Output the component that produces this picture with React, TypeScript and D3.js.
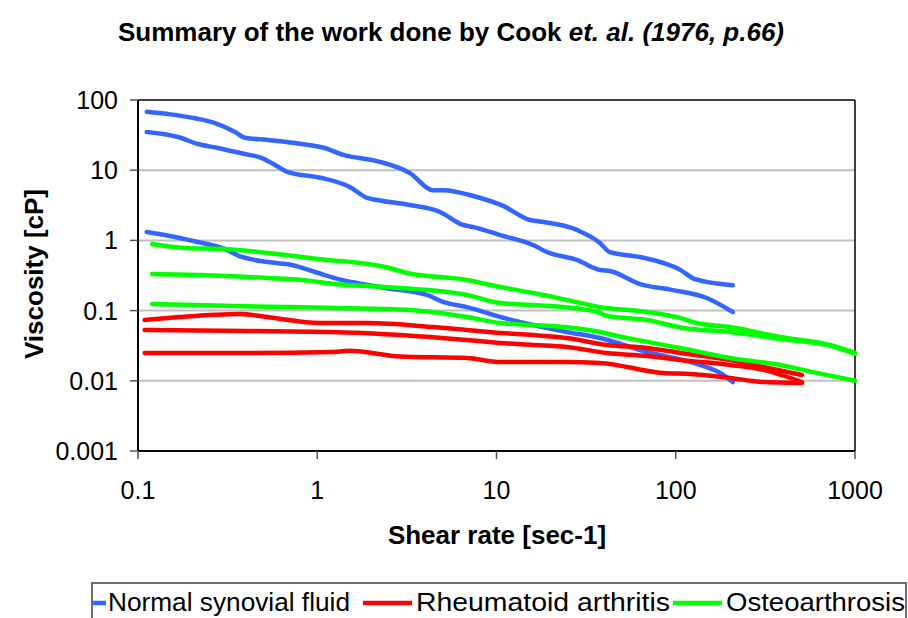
import React from 'react';
import * as d3 from 'd3';

const normalHighX = [0.112, 0.147, 0.208, 0.269, 0.348, 0.395, 0.531, 0.751, 1.10, 1.40, 2.15, 3.29, 4.42, 5.03, 7.78, 10.9, 15.4, 16.8, 28.1, 37.8, 42.9, 63.2, 106, 128, 208];
const normalHighY = [68, 63, 55, 47, 35, 29, 27, 24.4, 20.7, 16.5, 13.5, 9.1, 5.2, 5.2, 4.15, 3.1, 1.95, 1.89, 1.41, 0.92, 0.68, 0.58, 0.38, 0.28, 0.23];

const normalMidX = [0.112, 0.167, 0.216, 0.279, 0.395, 0.492, 0.581, 0.687, 1.06, 1.52, 1.90, 2.15, 3.29, 4.84, 6.50, 7.39, 10.5, 16.0, 19.1, 28.1, 37.8, 42.9, 63.2, 96.5, 149, 208];
const normalMidY = [35.0, 29.7, 23.6, 20.7, 17.0, 14.9, 11.9, 9.42, 7.74, 5.77, 4.02, 3.76, 3.19, 2.54, 1.66, 1.55, 1.19, 0.859, 0.684, 0.526, 0.379, 0.366, 0.239, 0.196, 0.151, 0.0955];

const normalLowX = [0.112, 0.161, 0.228, 0.294, 0.380, 0.531, 0.723, 0.971, 1.37, 1.92, 2.39, 4.10, 5.03, 6.84, 10.5, 16.0, 24.7, 37.8, 69.2, 125, 177, 208];
const normalLowY = [1.32, 1.12, 0.918, 0.780, 0.581, 0.492, 0.447, 0.355, 0.273, 0.232, 0.210, 0.167, 0.133, 0.112, 0.0811, 0.0624, 0.0496, 0.0407, 0.0257, 0.0180, 0.0129, 0.0096];

const rheumHighX = [0.109, 0.171, 0.371, 0.525, 1.04, 1.90, 4.42, 6.84, 10.5, 16.0, 24.7, 41.3, 69.2, 106, 201, 307, 506];
const rheumHighY = [0.0734, 0.0811, 0.0896, 0.0811, 0.0665, 0.0665, 0.0583, 0.0530, 0.0480, 0.0449, 0.0407, 0.0324, 0.0293, 0.0249, 0.0198, 0.0157, 0.0121];

const rheumMidX = [0.109, 0.405, 1.18, 2.90, 6.84, 10.5, 16.0, 24.7, 41.3, 69.2, 106, 201, 307, 506];
const rheumMidY = [0.0530, 0.0512, 0.0496, 0.0449, 0.0381, 0.0345, 0.0324, 0.0303, 0.0249, 0.0225, 0.0198, 0.0168, 0.0143, 0.0096];

const rheumLowX = [0.109, 0.405, 1.18, 1.52, 2.90, 6.84, 10.5, 24.7, 37.8, 84.9, 120, 201, 307, 506];
const rheumLowY = [0.0249, 0.0249, 0.0257, 0.0268, 0.0222, 0.0211, 0.0185, 0.0185, 0.0180, 0.0129, 0.0125, 0.0110, 0.0096, 0.0093];

const osteoHighX = [0.120, 0.183, 0.306, 0.531, 0.822, 1.15, 1.56, 2.39, 3.17, 6.84, 10.5, 16.0, 24.7, 37.8, 69.2, 106, 131, 201, 382, 725, 1000];
const osteoHighY = [0.889, 0.780, 0.753, 0.662, 0.581, 0.526, 0.492, 0.418, 0.344, 0.273, 0.217, 0.178, 0.142, 0.112, 0.0955, 0.0786, 0.0665, 0.0583, 0.0421, 0.0324, 0.0249];

const osteoMidX = [0.120, 0.228, 0.531, 0.822, 1.26, 2.39, 2.90, 6.84, 10.5, 16.0, 26.7, 37.8, 41.3, 69.2, 110, 201, 382, 725, 1000];
const osteoMidY = [0.332, 0.321, 0.291, 0.273, 0.239, 0.217, 0.210, 0.167, 0.128, 0.120, 0.109, 0.0925, 0.0837, 0.0734, 0.0565, 0.0496, 0.0394, 0.0317, 0.0241];

const osteoLowX = [0.120, 0.348, 0.822, 2.39, 3.29, 6.84, 10.5, 16.0, 26.7, 37.8, 44.7, 106, 201, 382, 583, 1000];
const osteoLowY = [0.124, 0.116, 0.112, 0.105, 0.102, 0.0811, 0.0665, 0.0624, 0.0565, 0.0496, 0.0449, 0.0293, 0.0211, 0.0168, 0.0133, 0.0100];

const xTicks = [0.1, 1, 10, 100, 1000];
const yTicks = [0.001, 0.01, 0.1, 1, 10, 100];
const groupNames = ['Normal synovial fluid', 'Rheumatoid arthritis', 'Osteoarthrosis'];
const groupColors = ['#3366ff', '#ff0000', '#00ff00'];

const series = [
    { group: 0, xs: normalHighX, ys: normalHighY },
    { group: 0, xs: normalMidX, ys: normalMidY },
    { group: 0, xs: normalLowX, ys: normalLowY },
    { group: 1, xs: rheumHighX, ys: rheumHighY },
    { group: 1, xs: rheumMidX, ys: rheumMidY },
    { group: 1, xs: rheumLowX, ys: rheumLowY },
    { group: 2, xs: osteoHighX, ys: osteoHighY },
    { group: 2, xs: osteoMidX, ys: osteoMidY },
    { group: 2, xs: osteoLowX, ys: osteoLowY },
];

const font = "Arial, 'Liberation Sans', sans-serif";

export default function App() {
    const width = 908;
    const height = 618;
    const left = 138, right = 855, top = 100, bottom = 451;

    const scaleX = d3.scaleLog().domain([0.1, 1000]).range([left, right]);
    const scaleY = d3.scaleLog().domain([0.001, 100]).range([bottom, top]);

    const line = d3.line<[number, number]>()
        .x(d => scaleX(d[0]))
        .y(d => scaleY(d[1]))
        .curve(d3.curveMonotoneX);

    const paths = series.map((s, i) => {
        const pts = s.xs.map((x, j) => [x, s.ys[j]] as [number, number]);
        return <path key={i} d={line(pts) || ''} fill="none" stroke={groupColors[s.group]}
            strokeWidth={4.5} strokeLinejoin="round" strokeLinecap="round" />;
    });

    // legend item positions (sample line start, text start, text width)
    const legendItems = [
        { lineX: 57, textX: 108, textW: 242 },
        { lineX: 363, textX: 416, textW: 254 },
        { lineX: 673, textX: 726, textW: 179 },
    ];

    return (
        <svg width={width} height={height} style={{ position: 'absolute', left: 0, top: 0, background: 'white' }}
            fontFamily={font}>
            <text x={451} y={41} textAnchor="middle" fontSize={26} fontWeight="bold">
                Summary of the work done by Cook <tspan fontStyle="italic">et. al. (1976, p.66)</tspan>
            </text>

            {/* grid */}
            {yTicks.slice(1, -1).map(t =>
                <line key={t} x1={left} x2={right} y1={scaleY(t)} y2={scaleY(t)} stroke="#c0c0c0" strokeWidth={2} />
            )}
            <line x1={left} x2={right} y1={top} y2={top} stroke="#404040" strokeWidth={2} />
            <line x1={right} x2={right} y1={top} y2={bottom} stroke="#000" strokeWidth={1.5} />

            <g>{paths}</g>

            {/* axes */}
            <line x1={left} x2={left} y1={top} y2={bottom} stroke="#000" strokeWidth={2} />
            <line x1={left} x2={right} y1={bottom} y2={bottom} stroke="#000" strokeWidth={2} />
            {yTicks.map(t =>
                <g key={t}>
                    <line x1={left - 8} x2={left} y1={scaleY(t)} y2={scaleY(t)} stroke="#555" strokeWidth={1.5} />
                    <text x={118} y={scaleY(t) + 9} textAnchor="end" fontSize={25}>{t}</text>
                </g>
            )}
            {xTicks.map(t =>
                <g key={t}>
                    <line x1={scaleX(t)} x2={scaleX(t)} y1={bottom} y2={bottom + 8} stroke="#555" strokeWidth={1.5} />
                    <text x={scaleX(t)} y={499} textAnchor="middle" fontSize={25}>{t}</text>
                </g>
            )}

            <text x={497} y={544} textAnchor="middle" fontSize={26} fontWeight="bold">Shear rate [sec-1]</text>
            <text transform="translate(43,274) rotate(-90)" textAnchor="middle" fontSize={26} fontWeight="bold">Viscosity [cP]</text>

            {/* legend */}
            <defs>
                <clipPath id="legendClip">
                    <rect x={92} y={583} width={814} height={60} />
                </clipPath>
            </defs>
            <rect x={92} y={583} width={814} height={60} fill="white" stroke="#404040" strokeWidth={1.5} />
            <g clipPath="url(#legendClip)">
                {legendItems.map((it, i) =>
                    <g key={i}>
                        <line x1={it.lineX} x2={it.lineX + 49} y1={603} y2={603} stroke={groupColors[i]} strokeWidth={4.5} />
                        <text x={it.textX} y={611} fontSize={26} textLength={it.textW} lengthAdjust="spacingAndGlyphs">{groupNames[i]}</text>
                    </g>
                )}
            </g>
        </svg>
    );
}
